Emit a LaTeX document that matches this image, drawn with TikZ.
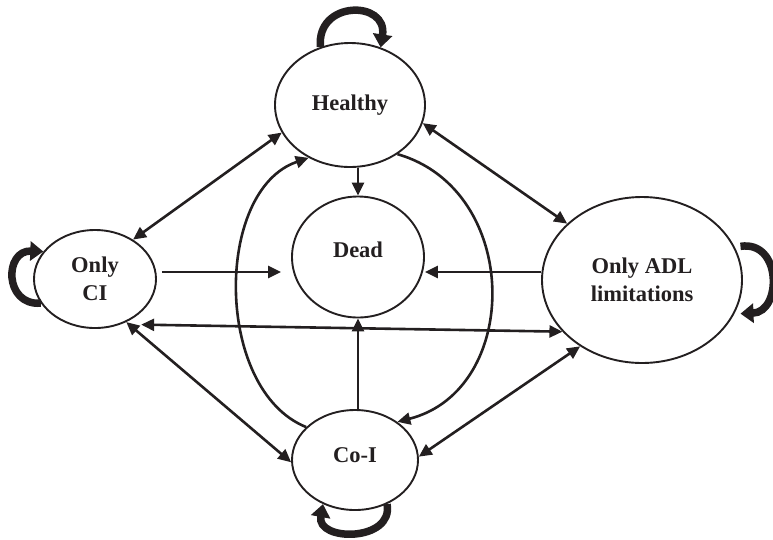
\documentclass[tikz,border=0pt]{standalone}
\usepackage{fontspec}
\setmainfont{Liberation Serif}
\usepackage{tikz}
\usetikzlibrary{arrows.meta, positioning, calc, shapes.geometric}
\definecolor{inkblack}{RGB}{35, 31, 32}

\begin{document}
\begin{tikzpicture}[x=1pt, y=-1pt,
  >={Triangle[length=13pt, width=12pt]},
  state/.style={ellipse, draw=inkblack, line width=1.9pt, inner sep=0pt,
    align=center, text=inkblack, font=\fontsize{22.5}{28}\selectfont\bfseries},
  trans/.style={draw=inkblack, line width=2.6pt, ->},
  twoway/.style={draw=inkblack, line width=2.6pt, <->},
  selfloop/.style={draw=inkblack, line width=7.5pt,
    -{Triangle[length=13pt, width=19pt]}}]
  \useasboundingbox (0,0) rectangle (773,539);

  %% STATES
  \node[state, minimum width=150pt, minimum height=124pt] (healthy) at (350,105) {Healthy};
  \node[state, minimum width=132pt, minimum height=121pt, text depth=14pt] (dead) at (358,257) {Dead};
  \node[state, minimum width=122pt, minimum height=98pt] (onlyci) at (95,279) {Only\\CI};
  \node[state, minimum width=200pt, minimum height=166pt] (adl) at (642,280) {Only ADL\\limitations};
  \node[state, minimum width=126pt, minimum height=100pt, text depth=9pt] (coi) at (355,460) {Co-I};

  %% Transitions into Dead
  \draw[trans] (healthy.south -| dead.north) -- (dead.north);
  \draw[trans] (coi.north -| dead.south) -- (dead.south);
  \draw[trans, shorten <=5pt, shorten >=10pt]
    ([yshift=7pt]onlyci.east) -- ([yshift=7pt]onlyci.east -| dead.west);
  \draw[trans] ([yshift=8pt]adl.west) -- ([yshift=8pt]adl.west -| dead.east);

  %% Two-way transitions
  \draw[twoway] (healthy.202) -- (onlyci.46);
  \draw[twoway] (healthy.346) -- (adl.143);
  \draw[twoway, shorten <=20pt] (onlyci.300) -- (adl.213.7);
  \draw[twoway] (onlyci.306.7) -- (coi.182);
  \draw[twoway] (coi.3) -- (adl.227);

  %% Healthy <-> Co-I arcs
  \draw[trans] (coi.146) .. controls (214,390) and (214,190) .. (healthy.232);
  \draw[trans] (healthy.314) .. controls (522,190) and (522,390) .. (coi.42);

  %% Staying in the same state
  \draw[selfloop] (healthy.117) .. controls (316,0) and (388,0) .. (healthy.62);
  \draw[selfloop] (onlyci.204) .. controls (4,306) and (4,250) .. (onlyci.152);
  \draw[selfloop] ([xshift=6pt]adl.20) .. controls (782,240) and (782,312) .. ([xshift=6pt]adl.340);
  \draw[selfloop] (coi.306) .. controls (394,542) and (316,542) .. (coi.234);
\end{tikzpicture}
\end{document}
